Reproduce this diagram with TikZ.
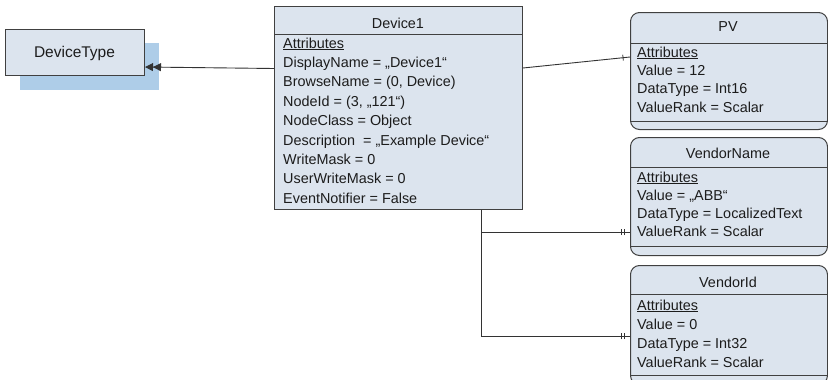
\documentclass[tikz,border=0pt]{standalone}
\usepackage{fontspec}
\setmainfont{Liberation Sans}
\usetikzlibrary{arrows.meta,decorations.markings,calc}
\definecolor{boxfill}{HTML}{DCE4EE}
\definecolor{boxline}{HTML}{404040}
\definecolor{shadowblue}{HTML}{AECDE8}
\definecolor{wirecol}{HTML}{333333}
\definecolor{txtcol}{HTML}{1C1C1C}
\begin{document}
\begin{tikzpicture}[x=1pt,y=-1pt,
  classbox/.style={draw=boxline, fill=boxfill, line width=1pt, inner sep=0pt, anchor=north west},
  txt/.style={anchor=base west, inner sep=0pt, font=\fontsize{14.4}{17}\selectfont, text=txtcol},
  ttl/.style={anchor=base, inner sep=0pt, font=\fontsize{14.4}{17}\selectfont, text=txtcol},
  sepline/.style={draw=boxline, line width=0.8pt},
  wire/.style={draw=wirecol, line width=0.9pt},
  onetick/.style={decoration={markings, mark=at position -7pt with {\draw[wirecol, line width=0.8pt] (0,-3pt)--(0,3pt);}}, postaction=decorate},
  twotick/.style={decoration={markings,
     mark=at position -6pt with {\draw[wirecol, line width=0.8pt] (0,-3pt)--(0,3pt);},
     mark=at position -9pt with {\draw[wirecol, line width=0.8pt] (0,-3pt)--(0,3pt);}}, postaction=decorate}
]
\useasboundingbox (0,0) rectangle (828,380);
\clip (0,0) rectangle (828,380);

% DeviceType
\fill[shadowblue] (20,43) rectangle (159,90);
\node[classbox, minimum width=139pt, minimum height=46pt] (dt) at (5,29) {};
\node[anchor=base, inner sep=0pt, font=\fontsize{15.5}{18}\selectfont, text=txtcol] (dtt) at (74.5,57.5) {DeviceType};

% Device1
\node[classbox, minimum width=248pt, minimum height=203pt] (dev) at (274,6) {};
\draw[sepline] (274,34) -- (522,34);
\node[ttl] (devt) at (398,28) {Device1};
\foreach \t [count=\i from 0] in {\underline{Attributes},
  {DisplayName = „Device1“},
  {BrowseName = (0, Device)},
  {NodeId = (3, „121“)},
  {NodeClass = Object},
  {Description\ \ = „Example Device“},
  {WriteMask = 0},
  {UserWriteMask = 0},
  {EventNotifier = False}}
  \node[txt] (deva\i) at (283,48+19.4*\i) {\t};

% PV
\node[classbox, rounded corners=9pt, minimum width=197pt, minimum height=117pt] (pv) at (630,12) {};
\draw[sepline] (630,43) -- (827,43);
\draw[sepline] (630,121) -- (827,121);
\node[ttl] (pvt) at (728,31) {PV};
\foreach \t [count=\i from 0] in {\underline{Attributes},
  {Value = 12},
  {DataType = Int16},
  {ValueRank = Scalar}}
  \node[txt] (pva\i) at (637,57+18.4*\i) {\t};

% VendorName
\node[classbox, rounded corners=9pt, minimum width=197pt, minimum height=118pt] (vn) at (630,137) {};
\draw[sepline] (630,167) -- (827,167);
\draw[sepline] (630,246) -- (827,246);
\node[ttl] (vnt) at (728,158) {VendorName};
\foreach \t [count=\i from 0] in {\underline{Attributes},
  {Value = „ABB“},
  {DataType = LocalizedText},
  {ValueRank = Scalar}}
  \node[txt] (vna\i) at (637,182+18.2*\i) {\t};

% VendorId
\node[classbox, rounded corners=9pt, minimum width=197pt, minimum height=119pt] (vi) at (630,265) {};
\draw[sepline] (630,294) -- (827,294);
\draw[sepline] (630,375) -- (827,375);
\node[ttl] (vit) at (728,287) {VendorId};
\foreach \t [count=\i from 0] in {\underline{Attributes},
  {Value = 0},
  {DataType = Int32},
  {ValueRank = Scalar}}
  \node[txt] (via\i) at (637,310+19*\i) {\t};

% connector anchors
\coordinate (devL) at ($(dev.north west)+(0,62.5)$);
\coordinate (devR) at ($(dev.north east)+(0,62)$);
\coordinate (devB) at ($(dev.south west)+(207,0)$);
\coordinate (dtR)  at ($(dt.north east)+(0,38)$);
\coordinate (pvL)  at ($(pv.north west)+(0,45)$);
\coordinate (vnL)  at ($(vn.north west)+(0,95)$);
\coordinate (viL)  at ($(vi.north west)+(0,71)$);

\draw[wire, -{Triangle[length=8pt,width=8pt]Triangle[length=8pt,width=8pt]}] (devL) -- (dtR);
\draw[wire, onetick] (devR) -- (pvL);
\draw[wire, twotick] (devB) |- (vnL);
\draw[wire, twotick] (devB) |- (viL);
\end{tikzpicture}
\end{document}
